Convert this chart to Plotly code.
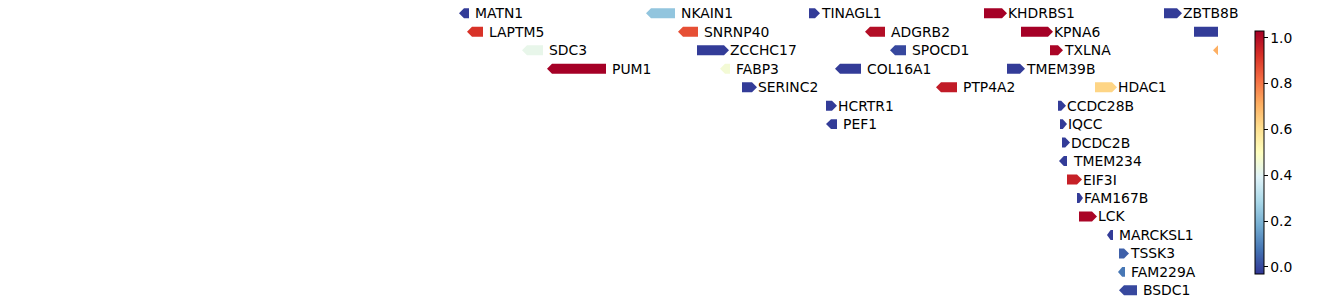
import plotly.graph_objects as go
from plotly.colors import sample_colorscale

# ---- data (positions in track units) ----
gene_names = ["MATN1", "NKAIN1", "TINAGL1", "KHDRBS1", "ZBTB8B",
              "LAPTM5", "SNRNP40", "ADGRB2", "KPNA6", "",
              "SDC3", "ZCCHC17", "SPOCD1", "TXLNA", "",
              "PUM1", "FABP3", "COL16A1", "TMEM39B",
              "SERINC2", "PTP4A2", "HDAC1",
              "HCRTR1", "CCDC28B",
              "PEF1", "IQCC",
              "DCDC2B", "TMEM234", "EIF3I", "FAM167B", "LCK",
              "MARCKSL1", "TSSK3", "FAM229A", "BSDC1"]
gene_starts = [459, 646, 809, 984, 1164,
               467, 678, 865, 1021, 1194,
               522, 697, 890, 1050, 1213,
               547, 720, 835, 1007,
               742, 936, 1095,
               826, 1058,
               826, 1060,
               1062, 1059, 1067, 1077, 1079,
               1107, 1119, 1118, 1119]
gene_ends = [469, 675, 820, 1007, 1182,
             483, 698, 885, 1053, 1232,
             543, 729, 906, 1063, 1240,
             606, 730, 861, 1025,
             757, 957, 1117,
             837, 1066,
             837, 1067,
             1070, 1067, 1082, 1083, 1097,
             1113, 1129, 1125, 1137]
gene_strands = [-1, -1, 1, 1, 1,
                -1, -1, -1, 1, 1,
                -1, 1, -1, 1, -1,
                -1, -1, -1, 1,
                1, -1, 1,
                1, 1,
                -1, 1,
                1, -1, 1, 1, 1,
                -1, 1, -1, -1]
gene_rows = [0, 0, 0, 0, 0,
             1, 1, 1, 1, 1,
             2, 2, 2, 2, 2,
             3, 3, 3, 3,
             4, 4, 4,
             5, 5,
             6, 6,
             7, 8, 9, 10, 11,
             12, 13, 14, 15]
gene_values = [-0.02, 0.24, -0.02, 1.03, -0.02,
               0.92, 0.87, 1.0, 1.03, -0.02,
               0.42, -0.02, 0.0, 1.02, 0.71,
               1.03, 0.46, -0.02, -0.02,
               -0.02, 0.97, 0.63,
               -0.02, -0.02,
               -0.02, -0.02,
               -0.02, -0.02, 0.96, -0.02, 1.02,
               -0.02, 0.04, 0.08, 0.0]
color_min, color_max = -0.03, 1.03
colorbar_ticks = [0.0, 0.2, 0.4, 0.6, 0.8, 1.0]

# ---- style ----
RdYlBu_r = ['rgb(49,54,149)', 'rgb(69,117,180)', 'rgb(116,173,209)', 'rgb(171,217,233)',
            'rgb(224,243,248)', 'rgb(255,255,191)', 'rgb(254,224,144)', 'rgb(253,174,97)',
            'rgb(244,109,67)', 'rgb(215,48,39)', 'rgb(165,0,38)']
cscale = [[i / 10, c] for i, c in enumerate(RdYlBu_r)]
FONT = "DejaVu Sans"
HALF_H = 0.27
HEAD = 5.0

fig = go.Figure()
shapes = []
annotations = []
for name, s, e, strand, row, v in zip(gene_names, gene_starts, gene_ends,
                                      gene_strands, gene_rows, gene_values):
    t = min(max((v - color_min) / (color_max - color_min), 0), 1)
    col = sample_colorscale(cscale, [t])[0]
    L = e - s
    head = min(HEAD, 0.6 * L)
    y0, y1 = row - HALF_H, row + HALF_H
    if strand > 0:
        pts = [(s, y0), (e - head, y0), (e, row), (e - head, y1), (s, y1)]
    else:
        pts = [(e, y0), (s + head, y0), (s, row), (s + head, y1), (e, y1)]
    path = "M " + " L ".join(f"{x},{y}" for x, y in pts) + " Z"
    shapes.append(dict(type="path", path=path, xref="x", yref="y",
                       fillcolor=col, line=dict(width=0), layer="above"))
    if name:
        annotations.append(dict(x=e, y=row, xref="x", yref="y", text=name,
                                showarrow=False, xanchor="left", yanchor="middle",
                                xshift=(-1 if strand > 0 else 3.5), yshift=0,
                                font=dict(family=FONT, size=13.9, color="black")))

mid_x = [(s + e) / 2 for s, e in zip(gene_starts, gene_ends)]
fig.add_trace(go.Scatter(
    x=mid_x, y=gene_rows, mode="markers", hoverinfo="skip", showlegend=False,
    marker=dict(color=gene_values, colorscale=cscale, cmin=color_min, cmax=color_max,
                opacity=0, size=1, showscale=True,
                colorbar=dict(x=1255 / 1218, xanchor="left", xref="paper",
                              y=1 - 152.35 / 305, yanchor="middle", len=243.3 / 305,
                              lenmode="fraction", thickness=9, outlinewidth=1,
                              outlinecolor="black", ticks="outside", ticklen=3.5,
                              tickwidth=1, tickcolor="black", tickvals=colorbar_ticks,
                              tickformat=".1f", xpad=0, ypad=0,
                              tickfont=dict(family=FONT, size=13.9, color="black"))),
    cliponaxis=True))

row_px = 18.47
ymin = -13.3 / row_px
ymax = ymin + 305 / row_px
fig.update_layout(
    width=1338, height=305,
    margin=dict(l=0, r=120, t=0, b=0),
    paper_bgcolor="white", plot_bgcolor="white",
    shapes=shapes, annotations=annotations,
    xaxis=dict(range=[0, 1218], visible=False, fixedrange=True),
    yaxis=dict(range=[ymax, ymin], visible=False, fixedrange=True),
)
fig.write_html("out.html")
